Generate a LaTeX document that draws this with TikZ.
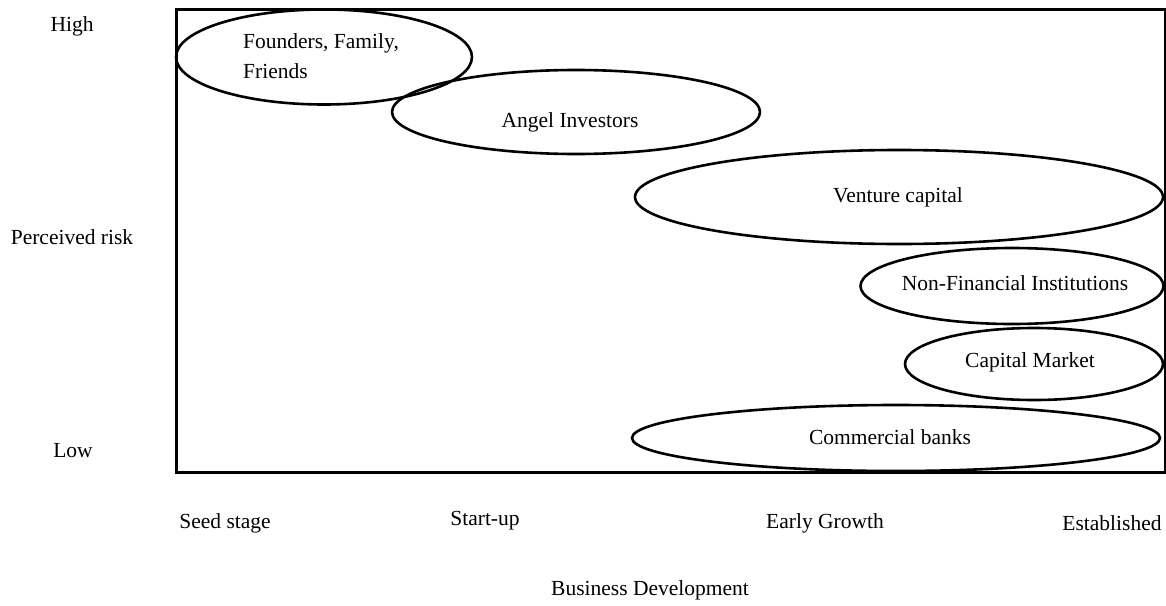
\documentclass[tikz,border=0pt]{standalone}
\usepackage{fontspec}
\setmainfont{Liberation Serif}
\usetikzlibrary{shapes.geometric}
\begin{document}
\begin{tikzpicture}[x=1pt,y=-1pt,
  lbl/.style={inner sep=0pt,font=\fontsize{21.5}{30}\selectfont},
  oval/.style={draw,ellipse,line width=2.6pt,inner sep=0pt}]
\useasboundingbox (0,0) rectangle (1166,605);
% chart frame
\node[draw,line width=3pt,minimum width=989pt,minimum height=463pt,inner sep=0pt,anchor=north west] (frame) at (175,8) {};
% funding sources
\node[oval,minimum width=296pt,minimum height=95pt] (fff) at (324,57) {};
\node[lbl,align=left,anchor=west] (tfff) at (243,56) {Founders, Family,\\Friends};
\node[oval,minimum width=368pt,minimum height=84pt] (angel) at (576,112) {};
\node[lbl] (tangel) at (570,122) {Angel Investors};
\node[oval,minimum width=528pt,minimum height=94pt] (vc) at (899,197) {};
\node[lbl] (tvc) at (898,197) {Venture capital};
\node[oval,minimum width=303pt,minimum height=76pt] (nfi) at (1012,286) {};
\node[lbl] (tnfi) at (1015,283) {Non-Financial Institutions};
\node[oval,minimum width=258pt,minimum height=72pt] (cm) at (1034,364) {};
\node[lbl] (tcm) at (1030,362) {Capital Market};
\node[oval,minimum width=528pt,minimum height=66pt] (cb) at (896,438) {};
\node[lbl] (tcb) at (890,437) {Commercial banks};
% risk axis
\node[lbl] (high) at (72,26) {High};
\node[lbl] (risk) at (72,237) {Perceived risk};
\node[lbl] (low) at (73,451) {Low};
% development axis
\node[lbl] (seed) at (225,523) {Seed stage};
\node[lbl] (start) at (485,521) {Start-up};
\node[lbl] (early) at (825,523) {Early Growth};
\node[lbl] (estab) at (1112,523) {Established};
\node[lbl] (bizdev) at (650,590) {Business Development};
\end{tikzpicture}
\end{document}
